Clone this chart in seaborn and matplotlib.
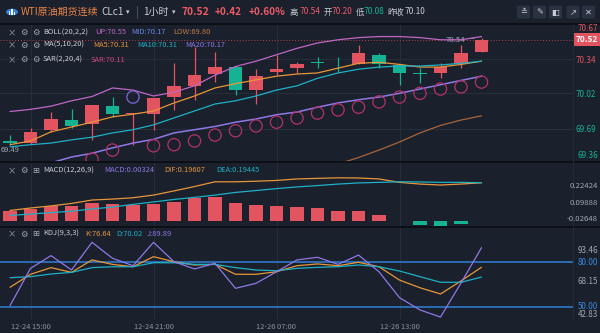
import numpy as np
import pandas as pd
import matplotlib
matplotlib.use("Agg")
import matplotlib.pyplot as plt
import seaborn as sns
from matplotlib.patches import Rectangle, FancyBboxPatch, Circle
from matplotlib.lines import Line2D

# ---------------- data ----------------
time_labels = ["12-24 15:00", "12-24 21:00", "12-26 07:00", "12-26 13:00"]
time_label_idx = [1, 7, 13, 19]

open_ = [69.57, 69.56, 69.68, 69.77, 69.73, 69.90, 69.83, 69.83, 69.99, 70.09, 70.20, 70.27,
         70.05, 70.22, 70.26, 70.30, 70.28, 70.29, 70.38, 70.28, 70.20, 70.21, 70.29, 70.41]
high = [69.63, 69.70, 69.85, 69.87, 69.91, 69.99, 69.84, 69.98, 70.30, 70.45, 70.41, 70.27,
        70.25, 70.38, 70.31, 70.36, 70.36, 70.47, 70.40, 70.28, 70.26, 70.30, 70.47, 70.54]
low = [69.54, 69.55, 69.66, 69.70, 69.58, 69.80, 69.54, 69.68, 69.86, 69.96, 70.13, 70.00,
       69.92, 70.19, 70.21, 70.26, 70.22, 70.29, 70.26, 70.10, 70.12, 70.16, 70.26, 70.41]
close = [69.56, 69.66, 69.78, 69.71, 69.91, 69.83, 69.84, 69.98, 70.09, 70.19, 70.27, 70.05,
         70.18, 70.25, 70.29, 70.30, 70.28, 70.40, 70.29, 70.21, 70.20, 70.27, 70.40, 70.52]

boll_up = [69.85, 69.87, 69.90, 69.95, 69.99, 70.07, 70.05, 69.995, 70.03, 70.09, 70.19, 70.27,
           70.32, 70.38, 70.44, 70.49, 70.52, 70.54, 70.55, 70.55, 70.54, 70.52, 70.52, 70.55]
boll_mid = [69.28, 69.32, 69.37, 69.425, 69.46, 69.51, 69.555, 69.59, 69.65, 69.68, 69.71, 69.75,
            69.78, 69.82, 69.845, 69.89, 69.93, 69.96, 69.985, 70.02, 70.06, 70.10, 70.14, 70.18]
nan = np.nan
boll_low = [nan] * 15 + [69.30, 69.36, 69.42, 69.49, 69.565, 69.65, 69.72, 69.77, 69.81]
ma5 = [69.54, 69.575, 69.66, 69.705, 69.75, 69.80, 69.825, 69.855, 69.93, 69.995, 70.07, 70.11,
       70.145, 70.18, 70.20, 70.21, 70.255, 70.30, 70.31, 70.29, 70.265, 70.265, 70.29, 70.32]
ma10 = [69.52, 69.54, 69.555, 69.585, 69.61, 69.65, 69.68, 69.725, 69.79, 69.855, 69.92, 69.95,
        69.995, 70.05, 70.09, 70.16, 70.21, 70.245, 70.265, 70.275, 70.275, 70.285, 70.30, 70.32]
sar = [nan, nan, nan, nan, 69.405, 69.49, 69.985, 69.53, 69.54, 69.575, 69.63, 69.67,
       69.715, 69.75, 69.79, 69.835, 69.865, 69.89, 69.94, 69.985, 70.02, 70.06, 70.08, 70.125]

dif = [0.058, 0.071, 0.082, 0.095, 0.113, 0.118, 0.125, 0.139, 0.161, 0.184, 0.209, 0.209,
       0.212, 0.216, 0.224, 0.227, 0.230, 0.229, 0.224, 0.206, 0.197, 0.192, 0.197, 0.204]
dea = [0.032, 0.039, 0.047, 0.054, 0.066, 0.076, 0.090, 0.103, 0.116, 0.127, 0.139, 0.153,
       0.163, 0.173, 0.182, 0.189, 0.197, 0.203, 0.206, 0.209, 0.208, 0.206, 0.206, 0.204]
macd_hist = [0.055, 0.064, 0.083, 0.082, 0.099, 0.091, 0.085, 0.091, 0.104, 0.122, 0.130, 0.099,
             0.087, 0.083, 0.078, 0.073, 0.057, 0.057, 0.034, 0.002, -0.017, -0.022, -0.015, 0.00324]

k_line = [63.1, 71.9, 76.4, 73.2, 81.6, 78.6, 77.0, 83.8, 80.4, 78.2, 78.6, 71.9,
          71.9, 73.6, 77.7, 78.9, 77.7, 80.0, 77.0, 68.0, 62.8, 58.6, 67.4, 76.64]
d_line = [69.6, 70.3, 72.1, 73.2, 76.4, 77.0, 77.0, 79.7, 79.7, 78.6, 78.6, 76.4,
          74.8, 74.3, 75.9, 76.6, 77.0, 78.2, 77.0, 74.1, 70.3, 66.5, 66.5, 70.02]
j_line = [50.7, 75.9, 84.5, 74.8, 93.5, 82.7, 77.7, 93.5, 80.4, 75.5, 79.3, 62.4,
          65.8, 73.6, 81.6, 83.4, 78.6, 84.9, 73.6, 56.1, 47.8, 43.0, 66.0, 89.89]

price_ticks = [70.34, 70.02, 69.69]
kdj_levels = [80.0, 50.0]

# ---------------- style ----------------
sns.set_theme(style="dark")
plt.rcParams['font.family'] = ['Noto Sans CJK SC', 'DejaVu Sans']
BG = '#1a202c'
RED = '#e2545f'
GREEN = '#15b393'
GRID = '#262d3b'
GRAY = '#a3a9b3'
ORANGE = '#e8963a'
CYAN = '#1fb0c6'
PURPLE = '#8f78e6'
PINK = '#bf67c4'
BROWN = '#a8653c'

W, H = 600, 333
fig = plt.figure(figsize=(6, 3.33), dpi=100)
fig.patch.set_facecolor(BG)

def fx(x):
    return x / W

def fy(y):
    return 1 - y / H

AX_R = 573

def rect(top, bottom):
    return [0, 1 - bottom / H, AX_R / W, (bottom - top) / H]

SP = 20.5
xlim = (-10 / SP, (AX_R - 10) / SP)
idx = np.arange(len(open_))

ax_m = fig.add_axes(rect(25, 161.5))
ax_d = fig.add_axes(rect(162.5, 226))
ax_k = fig.add_axes(rect(227, 319))

for ax in (ax_m, ax_d, ax_k):
    ax.set_facecolor(BG)
    ax.set_xlim(*xlim)
    for s in ax.spines.values():
        s.set_visible(False)
    ax.set_xticks(time_label_idx)
    ax.grid(True, axis='x', color=GRID, lw=0.8)
    ax.tick_params(length=0)
    ax.set_xlabel('')
    ax.set_ylabel('')

# ---------------- main panel ----------------
ax_m.set_ylim(69.383, 70.658)
ax_m.set_yticks(price_ticks)
ax_m.grid(True, axis='y', color=GRID, lw=0.8)
ax_m.set_xticklabels([])
ax_m.yaxis.tick_right()
ax_m.tick_params(axis='y', pad=2, labelsize=5.8)
ax_m.set_yticklabels([f"{v:.2f}" for v in price_ticks])
prev_close = 70.10
for lab, v in zip(ax_m.get_yticklabels(), price_ticks):
    lab.set_color(RED if v > prev_close else GREEN)

ax_m.axhline(close[-1], color='#b04050', lw=0.7, ls=(0, (1, 2)))

cols = [RED if c > o else GREEN for o, c in zip(open_, close)]
ax_m.vlines(idx, low, high, colors=cols, lw=0.9, zorder=3)
bottoms = [min(o, c) for o, c in zip(open_, close)]
heights = [max(abs(c - o), 0.009) for o, c in zip(open_, close)]
ax_m.bar(idx, heights, bottom=bottoms, width=0.66, color=cols, lw=0, zorder=4)

sns.lineplot(x=idx, y=boll_up, ax=ax_m, color=PINK, lw=0.9, zorder=5)
sns.lineplot(x=idx, y=boll_mid, ax=ax_m, color=PURPLE, lw=1.1, zorder=5)
sns.lineplot(x=idx, y=boll_low, ax=ax_m, color=BROWN, lw=0.9, zorder=5)
sns.lineplot(x=idx, y=ma5, ax=ax_m, color=ORANGE, lw=0.9, zorder=5)
sns.lineplot(x=idx, y=ma10, ax=ax_m, color=CYAN, lw=0.9, zorder=5)

sar_arr = np.array(sar)
close_arr = np.array(close)
above = sar_arr > close_arr
sns.scatterplot(x=idx[~above], y=sar_arr[~above], ax=ax_m, s=78, marker='o',
                facecolors='none', edgecolors='#b2326a', linewidth=0.9, zorder=6)
sns.scatterplot(x=idx[above], y=sar_arr[above], ax=ax_m, s=78, marker='o',
                facecolors='none', edgecolors='#7a6ad6', linewidth=0.9, zorder=6)
ax_m.set_xlim(*xlim)
ax_m.set_ylim(69.383, 70.658)

# high marker
ax_m.annotate("70.54", xy=(idx[-1] - 0.2, high[-1]), xytext=(-9, -2), textcoords='offset points',
              ha='right', va='center', fontsize=5.6, color=GRAY,
              arrowprops=dict(arrowstyle='-', color=GRAY, lw=0.6))

# ---------------- MACD ----------------
ax_d.set_ylim(-0.0237, 0.3105)
ax_d.set_yticks([])
ax_d.set_xticklabels([])
hcols = [RED if v >= 0 else GREEN for v in macd_hist]
ax_d.bar(idx, macd_hist, width=0.66, color=hcols, lw=0, zorder=3)
sns.lineplot(x=idx, y=dif, ax=ax_d, color=ORANGE, lw=0.9, zorder=4)
sns.lineplot(x=idx, y=dea, ax=ax_d, color=CYAN, lw=0.9, zorder=4)
ax_d.set_xlim(*xlim)
ax_d.set_ylim(-0.0237, 0.3105)

# ---------------- KDJ ----------------
ax_k.set_ylim(41.69, 103.85)
ax_k.set_yticks([])
for lv in kdj_levels:
    ax_k.axhline(lv, color='#2b6cb2', lw=1.4, zorder=2)
sns.lineplot(x=idx, y=k_line, ax=ax_k, color=ORANGE, lw=0.9, zorder=4)
sns.lineplot(x=idx, y=d_line, ax=ax_k, color=CYAN, lw=0.9, zorder=4)
sns.lineplot(x=idx, y=j_line, ax=ax_k, color=PURPLE, lw=0.9, zorder=4)
ax_k.set_xlim(*xlim)
ax_k.set_ylim(41.69, 103.85)
ax_k.set_xticks(time_label_idx)
ax_k.set_xticklabels(time_labels)
ax_k.tick_params(axis='x', labelsize=5.4, labelcolor='#8c929c', pad=3)

# ---------------- separators ----------------
for yy in (24, 162, 226.5):
    fig.add_artist(Line2D([0, 1], [fy(yy), fy(yy)], color='#0b0e14', lw=1.3))
fig.add_artist(Line2D([fx(AX_R), fx(AX_R)], [fy(25), fy(319)], color='#232a37', lw=0.8))

# ---------------- right labels ----------------
def rtext(y, s, c, size=5.8, x=598):
    fig.text(fx(x), fy(y), s, ha='right', va='center', fontsize=size, color=c)

rtext(28.5, "70.67", RED)
rtext(155, "69.36", GREEN)
fig.add_artist(Rectangle((fx(574), fy(46)), fx(26), 13 / H, facecolor=RED, edgecolor='none'))
fig.text(fx(587), fy(39.5), "70.52", ha='center', va='center', fontsize=6.0, color='white',
         fontweight='bold')
rtext(186, "0.22424", GRAY, 5.6)
rtext(202.7, "0.09888", GRAY, 5.6)
rtext(219.3, "-0.02648", GRAY, 5.6)
rtext(250.7, "93.46", GRAY, 5.8)
rtext(262.3, "80.00", '#3a8ae0', 5.8)
rtext(281.7, "68.15", GRAY, 5.8)
rtext(306.7, "50.00", '#3a8ae0', 5.8)
rtext(314.3, "42.83", GRAY, 5.8)

fig.text(fx(1), fy(150), "69.49", ha='left', va='center', fontsize=5.4, color=GRAY)

# ---------------- title bar ----------------
fig.add_artist(Circle((fx(12), fy(12)), 6 / W, facecolor='#2f7fe0', edgecolor='none',
                      transform=fig.transFigure))
for bx, bh in ((9.5, 4), (12, 6), (14.5, 3)):
    fig.add_artist(Rectangle((fx(bx - 0.8), fy(15)), 1.6 / W, bh / H, facecolor='white',
                             edgecolor='none'))

def ttext(x, y, s, c, size, weight='normal'):
    fig.text(fx(x), fy(y), s, ha='left', va='center', fontsize=size, color=c, fontweight=weight)

LIGHT = '#c9cdd5'
ttext(21, 12, "WTI原油期货连续", '#ec8446', 7.2)
ttext(101, 12, "CLc1", LIGHT, 7.2)
ttext(126, 12, "▾", LIGHT, 5)
fig.add_artist(Line2D([fx(137), fx(137)], [fy(6), fy(18)], color='#454c5a', lw=0.8))
ttext(143, 12, "1小时", LIGHT, 7.2)
ttext(172, 12, "▾", LIGHT, 5)
ttext(182, 12, "70.52", '#ef5a68', 7.4, 'bold')
ttext(215, 12, "+0.42", '#ef5a68', 7.2, 'bold')
ttext(249, 12, "+0.60%", '#ef5a68', 7.2, 'bold')
ttext(290, 12, "高", LIGHT, 6)
ttext(300, 12, "70.54", '#ef5a68', 6)
ttext(324, 12, "开", LIGHT, 6)
ttext(332, 12, "70.20", '#ef5a68', 6)
ttext(356, 12, "低", LIGHT, 6)
ttext(364, 12, "70.08", GREEN, 6)
ttext(387, 12, "昨收", LIGHT, 6)
ttext(405, 12, "70.10", LIGHT, 6)

for cx, g in zip((523.5, 539.5, 555.5, 573, 588.5), ("≛", "✎", "◧", "↗", "✕")):
    fig.add_artist(FancyBboxPatch((fx(cx - 6.5), fy(18.5)), 13 / W, 13 / H,
                                  boxstyle="round,pad=0,rounding_size=0.004",
                                  facecolor='#2a3140', edgecolor='none'))
    fig.text(fx(cx), fy(12.2), g, ha='center', va='center', fontsize=6, color=LIGHT,
             family=['DejaVu Sans', 'Noto Sans CJK SC'])

# ---------------- legend rows ----------------
LS = 5.4
def legend_row(y, icons, items):
    for x, g in zip((12, 24, 36), icons):
        fig.text(fx(x), fy(y), g, ha='center', va='center', fontsize=6, color=GRAY)
    for x, s, c in items:
        ttext(x, y, s, c, LS)

legend_row(32.5, ("×", "⚙", "⚙"), [(43, "BOLL(20,2,2)", LIGHT), (95, "UP:70.55", PINK),
                                  (131.5, "MID:70.17", '#6f86e6'), (173, "LOW:69.80", '#c07a48')])
legend_row(45, ("×", "⚙", "⚙"), [(43, "MA(5,10,20)", LIGHT), (93, "MA5:70.31", ORANGE),
                                (137, "MA10:70.31", CYAN), (185, "MA20:70.17", PURPLE)])
legend_row(59.5, ("×", "⚙", "⚙"), [(43, "SAR(2,20,4)", LIGHT), (90.5, "SAR:70.11", '#d2457e')])
legend_row(170.5, ("×", "⚙", "⊞"), [(43, "MACD(12,26,9)", LIGHT), (104, "MACD:0.00324", PURPLE),
                                   (164, "DIF:0.19607", ORANGE), (216, "DEA:0.19445", CYAN)])
legend_row(234, ("×", "⚙", "⊞"), [(43, "KDJ(9,3,3)", LIGHT), (85, "K:76.64", ORANGE),
                                 (116, "D:70.02", CYAN), (147, "J:89.89", PURPLE)])

fig.savefig("out.png", dpi=100, facecolor=BG)
